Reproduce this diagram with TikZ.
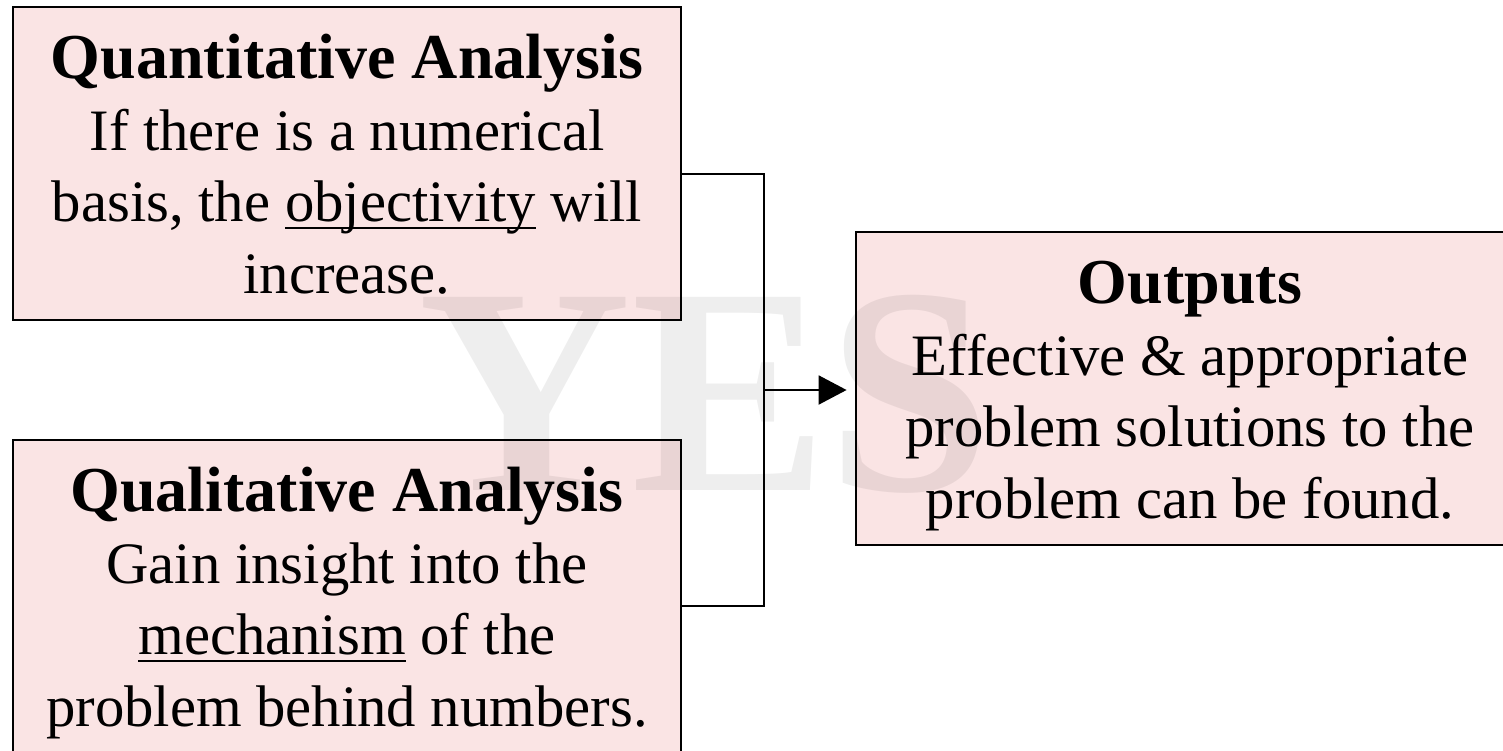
\documentclass[tikz,border=0pt]{standalone}
\usepackage{fontspec}
\setmainfont{Liberation Serif}
\usetikzlibrary{arrows.meta}
\definecolor{boxpink}{RGB}{250,228,228}
\newsavebox\myulbox
\newcommand\myul[1]{\leavevmode\sbox\myulbox{#1}\rlap{\rule[-3.8pt]{\wd\myulbox}{1pt}}\usebox\myulbox}
\newcommand\boxtitle[1]{{\bfseries\fontsize{32pt}{35.8pt}\selectfont #1}}
\begin{document}
\begin{tikzpicture}[x=0.5pt,y=-0.5pt,
  box/.style={draw=black, line width=1.4pt, fill=boxpink,
    minimum width=334pt, minimum height=156.5pt, text width=330pt,
    inner xsep=2pt, inner ysep=0pt, align=flush center,
    text height=22.5pt, text depth=107.4pt,
    font=\fontsize{29.35pt}{35.8pt}\selectfont},
  conn/.style={draw=black, line width=1pt},
  arr/.style={conn, -{Triangle[length=14pt,width=14.5pt]}, shorten >=4pt},
  wm/.style={inner sep=0pt, anchor=base, text=black, text opacity=0.065,
    font=\bfseries\fontsize{147.5pt}{150pt}\selectfont}]
\useasboundingbox (0,0) rectangle (1503,750);
\fill[white] (0,0) rectangle (1503,750);
\clip (0,0) rectangle (1503,750);

\node[box] (quant) at (347,163.5) {\boxtitle{Quantitative Analysis}\\
  If there is a numerical\\ basis, the \myul{objectivity} will\\ increase.};
\node[box] (qual) at (347,596.5) {\boxtitle{Qualitative Analysis}\\
  Gain insight into the\\ \myul{mechanism} of the\\ problem behind numbers.};
\node[box] (out) at (1190,388.5) {\boxtitle{Outputs}\\
  Effective \& appropriate\\ problem solutions to the\\ problem can be found.};

\coordinate (top) at (764,174);
\coordinate (bot) at (764,606);
\coordinate (join) at (764,390);
\draw[conn] (quant.east |- top) -- (top) -- (bot) -- (qual.east |- bot);
\draw[arr] (join) -- (join -| out.west);

\node[wm] (mark) at (705,490) {YES};
\end{tikzpicture}
\end{document}
